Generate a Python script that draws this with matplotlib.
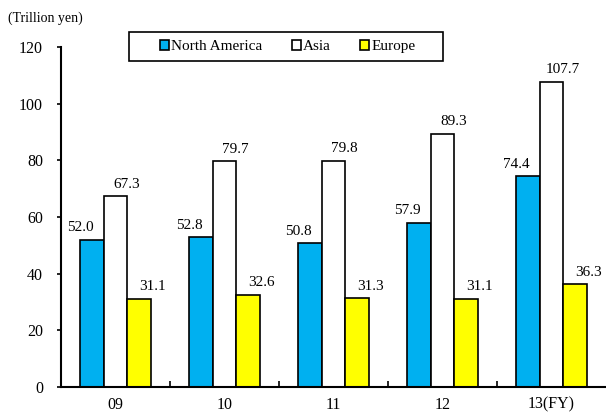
import numpy as np
from matplotlib import pyplot as plt
from matplotlib.patches import Rectangle

years = ['09', '10', '11', '12', '13(FY)']
north_america = [52.0, 52.8, 50.8, 57.9, 74.4]
asia = [67.3, 79.7, 79.8, 89.3, 107.7]
europe = [31.1, 32.6, 31.3, 31.1, 36.3]

plt.rcParams['font.family'] = ['Liberation Serif', 'DejaVu Serif']

fig = plt.figure(figsize=(6.06, 4.12), dpi=100)
ax = fig.add_axes([61 / 606, 1 - 387 / 412, 1 - 61 / 606, (387 - 47) / 412])

x = np.arange(len(years))
w = 0.22
series = [
    (north_america, '#00B0F0', 'North America', -1, -11),
    (asia, 'white', 'Asia', 0, 11),
    (europe, '#FFFF00', 'Europe', 1, 13),
]
for vals, col, name, k, dx in series:
    bars = ax.bar(x + k * w, vals, w, color=col, edgecolor='black', linewidth=1.2, label=name)
    for b, v in zip(bars, vals):
        ax.annotate(f'{v:.1f}', (b.get_x() + b.get_width() / 2, v),
                    xytext=(dx * 0.72, 4), textcoords='offset points',
                    ha='center', va='bottom', fontsize=11)

ax.set_xlim(-0.5, 4.5)
ax.set_ylim(0, 120)
ax.set_yticks(range(0, 121, 20))
ax.tick_params(axis='y', direction='out', length=3, width=1.2, labelsize=11.5, pad=10)
ax.set_xticks(x)
ax.set_xticklabels(years)
ax.tick_params(axis='x', length=0, labelsize=11.5, pad=7)
ax.set_xticks(np.arange(0.5, 4.5, 1), minor=True)
ax.tick_params(axis='x', which='minor', direction='in', length=4, width=1.2)

for s in ['top', 'right']:
    ax.spines[s].set_visible(False)
for s in ['left', 'bottom']:
    ax.spines[s].set_linewidth(1.5)

# legend without its own frame, box drawn separately (wider left pad like the original)
leg = fig.legend(*ax.get_legend_handles_labels(), loc='center left',
                 bbox_to_anchor=(160 / 606, 1 - 46.5 / 412), ncol=3, frameon=False,
                 fontsize=11, handlelength=0.6, handleheight=0.6, handletextpad=0.15,
                 columnspacing=1.9, borderpad=0, borderaxespad=0)
fig.add_artist(Rectangle((129 / 606, 1 - 61 / 412), (443 - 129) / 606, 29 / 412,
                         transform=fig.transFigure, fill=False, edgecolor='black', lw=1.2))

fig.text(8 / 606, 1 - 18 / 412, '(Trillion yen)', fontsize=10, va='center')

fig.savefig('out.png', dpi=100)
